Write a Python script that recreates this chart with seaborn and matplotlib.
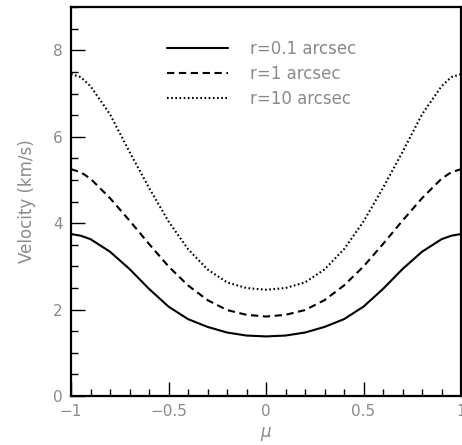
import numpy as np
import pandas as pd
import matplotlib
matplotlib.use('Agg')
import matplotlib.pyplot as plt
import seaborn as sns
from matplotlib.ticker import MultipleLocator

# values (the curves are symmetric about mu = 0)
mu = [-1.0, -0.95, -0.9, -0.8, -0.7, -0.6, -0.5, -0.4, -0.3, -0.2, -0.1, 0.0,
      0.1, 0.2, 0.3, 0.4, 0.5, 0.6, 0.7, 0.8, 0.9, 0.95, 1.0]
v_r01 = [3.75, 3.71, 3.63, 3.34, 2.94, 2.48, 2.07, 1.78, 1.60, 1.47, 1.40, 1.38,
         1.40, 1.47, 1.60, 1.78, 2.07, 2.48, 2.94, 3.34, 3.63, 3.71, 3.75]
v_r1 = [5.25, 5.18, 5.03, 4.58, 4.06, 3.52, 3.00, 2.56, 2.22, 1.99, 1.88, 1.84,
        1.88, 1.99, 2.22, 2.56, 3.00, 3.52, 4.06, 4.58, 5.03, 5.18, 5.25]
v_r10 = [7.45, 7.38, 7.17, 6.52, 5.65, 4.82, 4.04, 3.40, 2.93, 2.63, 2.50, 2.46,
         2.50, 2.63, 2.93, 3.40, 4.04, 4.82, 5.65, 6.52, 7.17, 7.38, 7.45]
labels = ['r=0.1 arcsec', 'r=1 arcsec', 'r=10 arcsec']
xticks = [-1, -0.5, 0, 0.5, 1]
xtick_labels = ['−1', '−0.5', '0', '0.5', '1']
yticks = [0, 2, 4, 6, 8]

df = pd.DataFrame({'mu': mu * 3,
                   'v': v_r01 + v_r1 + v_r10,
                   'r': [labels[0]] * len(mu) + [labels[1]] * len(mu) + [labels[2]] * len(mu)})

sns.set_style('white')
plt.rcParams['font.family'] = ['DejaVu Sans']
grey = '#8a8a8a'

fig = plt.figure(figsize=(4.62, 4.45), dpi=100)
ax = fig.add_axes([0.1537, 0.110, 0.8443, 0.874])

dashes = [None, (3.5, 2.2), (0.8, 1.2)]
for lab in labels:
    sns.lineplot(data=df[df['r'] == lab], x='mu', y='v', color='black', lw=1.5,
                 ax=ax, label=lab)
for ln, d in zip(ax.get_lines(), dashes):
    if d is not None:
        ln.set_dashes(d)

ax.set_xlim(-1, 1)
ax.set_ylim(0, 9)
ax.set_xticks(xticks)
ax.set_xticklabels(xtick_labels)
ax.set_yticks(yticks)
ax.set_yticklabels([str(t) for t in yticks])
ax.xaxis.set_minor_locator(MultipleLocator(0.1))
ax.yaxis.set_minor_locator(MultipleLocator(0.5))
ax.tick_params(which='both', direction='in', colors='black', labelcolor=grey,
               labelsize=11, top=False, right=False, left=True, bottom=True)
ax.tick_params(which='major', length=10, width=1, pad=6)
ax.tick_params(which='minor', length=5, width=1)
for s in ax.spines.values():
    s.set_color('black')
    s.set_linewidth(1.6)

ax.set_xlabel(r'$\mu$', color=grey, fontsize=12, labelpad=4)
ax.set_ylabel('Velocity (km/s)', color=grey, fontsize=12, labelpad=12)

leg = ax.legend(loc='upper left', bbox_to_anchor=(0.245, 0.915), frameon=False,
                handlelength=3.7, handletextpad=1.3, labelspacing=0.4,
                borderpad=0, borderaxespad=0, fontsize=12)
for t in leg.get_texts():
    t.set_color(grey)

plt.savefig('out.png', dpi=100)
